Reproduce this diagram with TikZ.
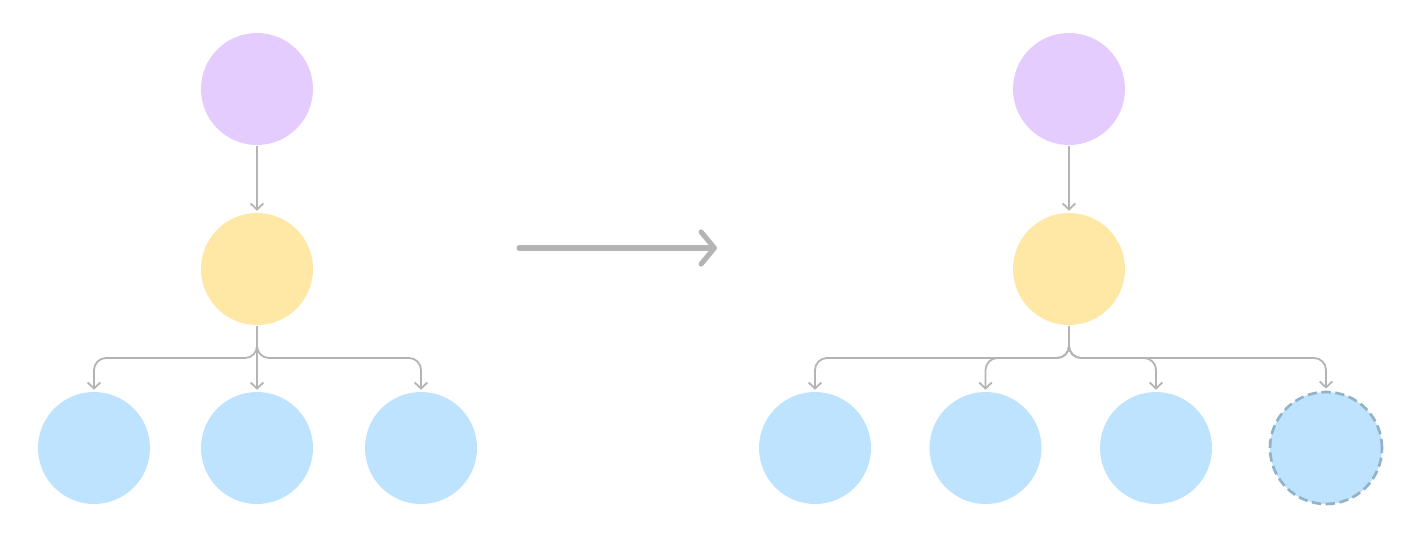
\documentclass[tikz,border=0pt]{standalone}
\usetikzlibrary{arrows.meta}
\definecolor{nodepurple}{HTML}{E4CCFF}
\definecolor{nodeyellow}{HTML}{FFE8A5}
\definecolor{nodeblue}{HTML}{BEE3FE}
\definecolor{dashblue}{HTML}{92B2CA}
\definecolor{linegray}{HTML}{B4B4B4}
\begin{document}
\begin{tikzpicture}[x=0.75pt,y=-0.75pt,
  ball/.style={circle,inner sep=0pt,minimum size=84pt,draw=none},
  purpleball/.style={ball,fill=nodepurple},
  yellowball/.style={ball,fill=nodeyellow},
  blueball/.style={ball,fill=nodeblue},
  newball/.style={ball,fill=nodeblue,draw=dashblue,line width=2pt,dash pattern=on 7pt off 3.4pt},
  edge/.style={draw=linegray,line width=1.35pt,rounded corners=9pt,
    -{Straight Barb[length=4.5pt,width=9.5pt,line width=1.35pt]},shorten >=1.5pt,shorten <=0.8pt},
  bigarrow/.style={draw=linegray,line width=3.8pt,line cap=round,line join=round,
    -{Straight Barb[length=10pt,width=24pt,line width=3.8pt,round]}}
]
\useasboundingbox (0,0) rectangle (1425,542);

% tree before
\node[purpleball] (pa) at (257,89) {};
\node[yellowball] (ya) at (257,269) {};
\node[blueball] (b1) at (94,448) {};
\node[blueball] (b2) at (257,448) {};
\node[blueball] (b3) at (421,448) {};
\coordinate (busA) at (0,358);

\draw[edge] (pa) -- (ya);
\draw[edge] (ya.south) -- (ya.south |- busA) -| (b1.north);
\draw[edge] (ya) -- (b2);
\draw[edge] (ya.south) -- (ya.south |- busA) -| (b3.north);

% transition arrow
\coordinate (t1) at (519,248);
\coordinate (t2) at (717,248);
\draw[bigarrow] (t1) -- (t2);

% tree after
\node[purpleball] (pb) at (1069,89) {};
\node[yellowball] (yb) at (1069,269) {};
\node[blueball] (c1) at (815,448) {};
\node[blueball] (c2) at (985.5,448) {};
\node[blueball] (c3) at (1156,448) {};
\node[newball] (c4) at (1326,448) {};
\coordinate (busB) at (0,358);

\draw[edge] (pb) -- (yb);
\foreach \c in {c1,c2,c3,c4}
  \draw[edge] (yb.south) -- (yb.south |- busB) -| (\c.north);
\end{tikzpicture}
\end{document}
